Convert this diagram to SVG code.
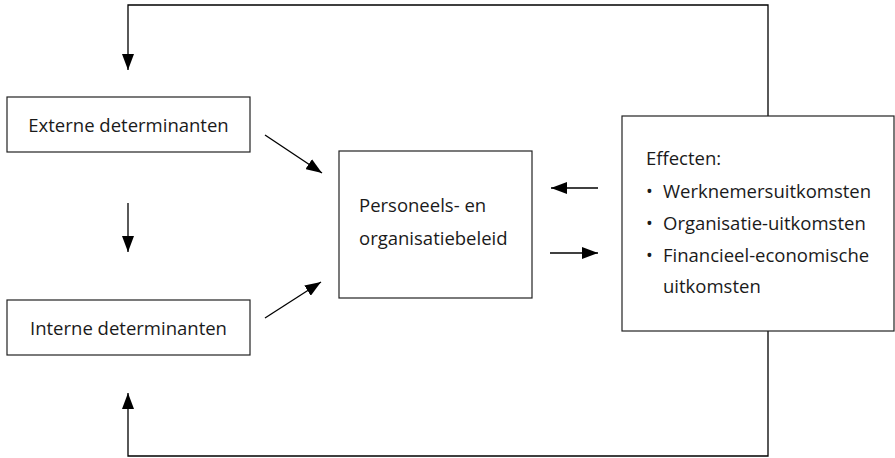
<svg xmlns="http://www.w3.org/2000/svg" width="895" height="458" viewBox="0 0 895 458">
<style>
.box{fill:#fff;stroke:#222;stroke-width:1.2}
.ln{fill:none;stroke:#000;stroke-width:1.3}
text{font-family:"Open Sans","Noto Sans",sans-serif;font-size:18.5px;fill:#1a1a1a}
.bul{font-size:18px}
</style>
<defs>
<marker id="ah" viewBox="0 0 16 12" refX="16" refY="6" markerWidth="16" markerHeight="12" markerUnits="userSpaceOnUse" orient="auto">
<path d="M0,0 L16,6 L0,12 Z" fill="#000"/>
</marker>
</defs>
<g id="connectors">
<path class="ln" d="M768,116 V5 H128 V70" marker-end="url(#ah)"/>
<path class="ln" d="M768,331 V456 H128 V393" marker-end="url(#ah)"/>
<path class="ln" d="M128,203 V252" marker-end="url(#ah)"/>
<path class="ln" d="M265,135 L322,173" marker-end="url(#ah)"/>
<path class="ln" d="M265,318 L321,282" marker-end="url(#ah)"/>
<path class="ln" d="M598,188 H551" marker-end="url(#ah)"/>
<path class="ln" d="M550,253 H598" marker-end="url(#ah)"/>
</g>
<g id="extern">
<rect class="box" x="7" y="97" width="243" height="55"/>
<text x="128.5" y="132" text-anchor="middle">Externe determinanten</text>
</g>
<g id="intern">
<rect class="box" x="7" y="300" width="243" height="55"/>
<text x="128.5" y="335" text-anchor="middle">Interne determinanten</text>
</g>
<g id="beleid">
<rect class="box" x="339" y="151" width="193" height="147"/>
<text x="359" y="212">Personeels- en</text>
<text x="359" y="245">organisatiebeleid</text>
</g>
<g id="effecten">
<rect class="box" x="622" y="116" width="272" height="215"/>
<text x="646" y="165">Effecten:</text>
<text class="bul" x="646" y="198">•</text>
<text x="663" y="198">Werknemersuitkomsten</text>
<text class="bul" x="646" y="230">•</text>
<text x="663" y="230">Organisatie-uitkomsten</text>
<text class="bul" x="646" y="262">•</text>
<text x="663" y="262">Financieel-economische</text>
<text x="663" y="293">uitkomsten</text>
</g>
</svg>
